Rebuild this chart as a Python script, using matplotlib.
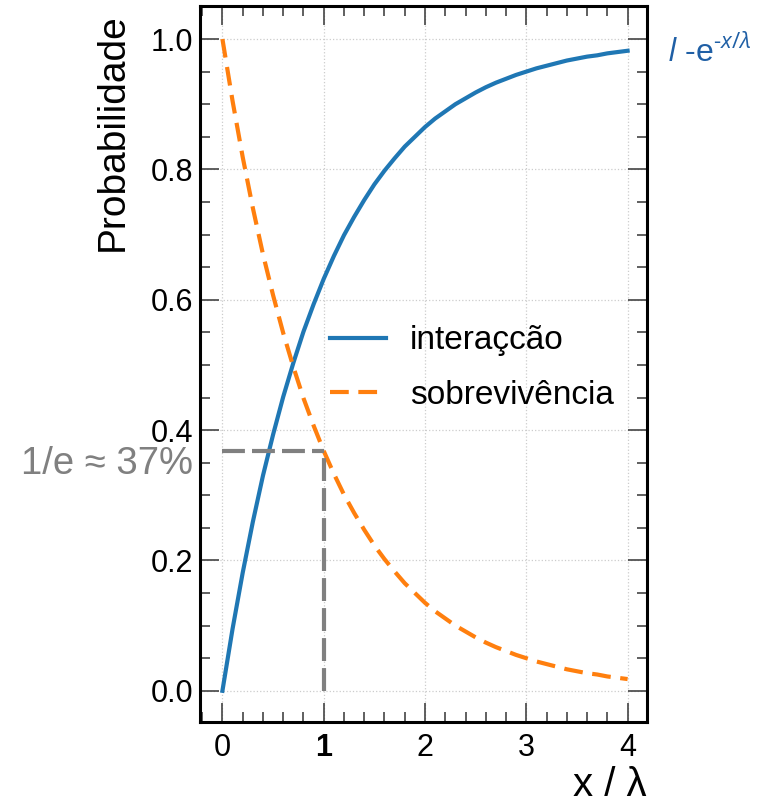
import numpy as np
import matplotlib.pyplot as plt
from matplotlib.ticker import MultipleLocator, FixedLocator

# values
x_vals = [0.0, 0.1, 0.2, 0.3, 0.4, 0.5, 0.6, 0.7, 0.8, 0.9, 1.0,
          1.1, 1.2, 1.3, 1.4, 1.5, 1.6, 1.7, 1.8, 1.9, 2.0,
          2.1, 2.2, 2.3, 2.4, 2.5, 2.6, 2.7, 2.8, 2.9, 3.0,
          3.1, 3.2, 3.3, 3.4, 3.5, 3.6, 3.7, 3.8, 3.9, 4.0]
interaction = [0.0, 0.095, 0.181, 0.259, 0.330, 0.393, 0.451, 0.503, 0.551, 0.593, 0.632,
               0.667, 0.699, 0.727, 0.753, 0.777, 0.798, 0.817, 0.835, 0.850, 0.865,
               0.878, 0.889, 0.900, 0.909, 0.918, 0.926, 0.933, 0.939, 0.945, 0.950,
               0.955, 0.959, 0.963, 0.967, 0.970, 0.973, 0.975, 0.978, 0.980, 0.982]
survival = [1.0, 0.905, 0.819, 0.741, 0.670, 0.607, 0.549, 0.497, 0.449, 0.407, 0.368,
            0.333, 0.301, 0.273, 0.247, 0.223, 0.202, 0.183, 0.165, 0.150, 0.135,
            0.122, 0.111, 0.100, 0.091, 0.082, 0.074, 0.067, 0.061, 0.055, 0.050,
            0.045, 0.041, 0.037, 0.033, 0.030, 0.027, 0.025, 0.022, 0.020, 0.018]
one_over_e = 0.368
x_ticks = [0, 1, 2, 3, 4]
y_ticks = [0.0, 0.2, 0.4, 0.6, 0.8, 1.0]

plt.rcParams['font.family'] = ['Liberation Sans', 'DejaVu Sans']
plt.rcParams['mathtext.fontset'] = 'custom'
plt.rcParams['mathtext.rm'] = 'Open Sans'
plt.rcParams['mathtext.it'] = 'Open Sans:italic'

fig = plt.figure(figsize=(7.61, 8.05), dpi=100)
ax = fig.add_axes([0.263, 0.103, 0.587, 0.889])

ax.plot(x_vals, interaction, color='#1f77b4', lw=3, label='interaçcão')
ax.plot(x_vals, survival, color='#ff7f0e', lw=3, ls=(0, (4.5, 2.3)), label='sobrevivência')

# 1/e guide lines
ax.plot([0, 1], [one_over_e, one_over_e], color='#808080', lw=3, ls=(0, (5.5, 1.7)))
ax.plot([1, 1], [0, one_over_e], color='#808080', lw=3, ls=(0, (5.5, 1.7)))
ax.text(-0.29, 0.348, '1/e ≈ 37%', color='#808080', fontsize=27.5,
        ha='right', va='center', clip_on=False)

ax.set_xlim(-0.22, 4.19)
ax.set_ylim(-0.048, 1.05)

ax.xaxis.set_major_locator(FixedLocator(x_ticks))
ax.yaxis.set_major_locator(FixedLocator(y_ticks))
ax.xaxis.set_minor_locator(MultipleLocator(0.2))
ax.yaxis.set_minor_locator(MultipleLocator(0.05))
ax.set_yticklabels(['%.1f' % v for v in y_ticks])
ax.set_xticklabels([str(v) for v in x_ticks])
ax.get_xticklabels()[1].set_fontweight('bold')

ax.tick_params(which='both', direction='in', top=True, right=True,
               color='#444444', labelsize=22, width=1.2)
ax.tick_params(which='major', length=14)
ax.tick_params(which='minor', length=7)
ax.tick_params(axis='y', which='major', pad=5)
ax.tick_params(axis='x', which='major', pad=8)
for s in ax.spines.values():
    s.set_linewidth(2.2)

ax.grid(True, which='major', ls=':', color='#cccccc', lw=0.9)

ax.set_ylabel('Probabilidade', fontsize=28)
ax.yaxis.set_label_coords(-0.155, 0.99, transform=ax.transAxes)
ax.yaxis.label.set_va('bottom')
ax.yaxis.label.set_ha('right')
ax.set_xlabel('x / λ', fontsize=29, loc='right', labelpad=2)

ax.legend(loc='center left', bbox_to_anchor=(0.29, 0.495), frameon=False,
          fontsize=24, handlelength=1.7, handletextpad=0.7, labelspacing=0.7,
          borderpad=0, borderaxespad=0)

fig.text(0.876, 0.936, r'$\mathit{I}$ -e$^{\text{-}\mathit{x/λ}}$', color='#1f5fa5',
         fontsize=23, ha='left', va='center')

fig.savefig('out.png', dpi=100)
